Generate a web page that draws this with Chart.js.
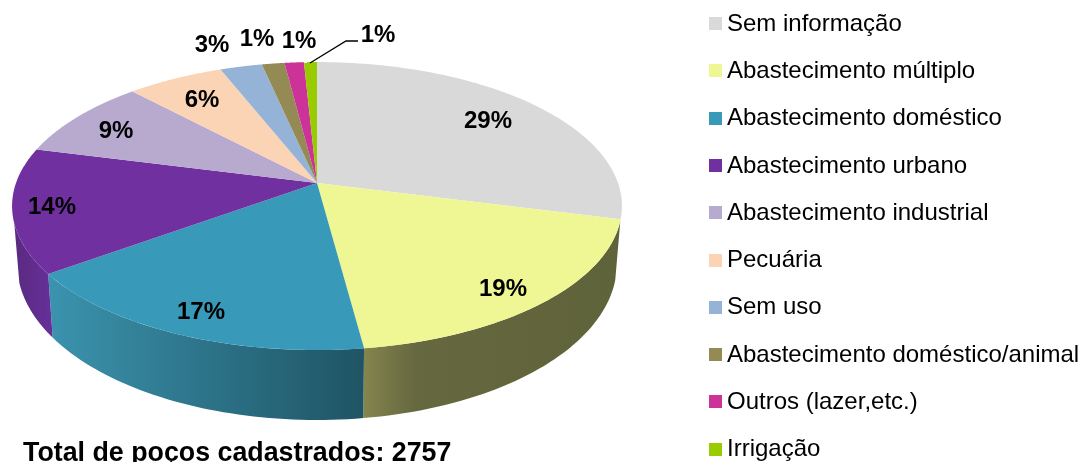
<!DOCTYPE html>
<html><head><meta charset="utf-8">
<style>html,body{margin:0;padding:0;background:#fff;overflow:hidden}canvas{display:block}</style>
<script src="https://cdn.jsdelivr.net/npm/chart.js@4"></script>
</head><body><canvas id="c" width="1081" height="462"></canvas>
<script>
const categories = ["Sem informação","Abastecimento múltiplo","Abastecimento doméstico","Abastecimento urbano","Abastecimento industrial","Pecuária","Sem uso","Abastecimento doméstico/animal","Outros (lazer,etc.)","Irrigação"];
const percentValues = [29,18.9,17.1,14,9,6,2.6,1.4,1.2,0.8];
const totalLabel = "Total de poços cadastrados: 2757";
const sliceColors = ["#d9d9d9","#eff795","#389ab8","#7030a0","#b8a9cf","#fbd3b5","#95b3d7","#948a54","#cc3399","#99cc00"];
const sideStops = [["#7a7a7a","#666666"],["#85854f","#5f6339"],["#3b93ae","#1f5464"],["#5a2a80","#66309a"]];
const labelAnchors = [[488,121],[503,289],[201,312],[52,207],[116,131],[202,100],[212,45],[257,39],[299,41],[378,35]];

const top3d = {cx:317, cy:183, c:301, a:140.3, b:0.16};
const bot3d = {cx:317, cy:239, c:296, a:152, b:0.16};
function rim(p, ang){
  const u=Math.cos(ang), v=-Math.sin(ang), d=1+p.b*v;
  return [p.cx+p.c*u/d, p.cy-p.a*v/d];
}
const plugin3d = {
  id:'pie3d',
  beforeDatasetsDraw(chart){
    const ctx=chart.ctx, arcs=chart.getDatasetMeta(0).data;
    const visA=-Math.PI/2+105*Math.PI/180, visB=-Math.PI/2+254*Math.PI/180;
    arcs.forEach((arc,i)=>{
      const s=Math.max(arc.startAngle,visA), e=Math.min(arc.endAngle,visB);
      if(e<=s) return;
      const N=48, T=[], B=[];
      for(let k=0;k<=N;k++){const t=s+(e-s)*k/N;T.push(rim(top3d,t));B.push(rim(bot3d,t));}
      const xs=T.concat(B).map(p=>p[0]), x0=Math.min(...xs), x1=Math.max(...xs);
      const g=ctx.createLinearGradient(x0,0,x1,0);
      const st=sideStops[i]||["#000","#000"];
      if(i===1){g.addColorStop(0,st[0]);g.addColorStop(0.2,"#66683f");g.addColorStop(1,st[1]);}
      else{g.addColorStop(0,st[0]);g.addColorStop(1,st[1]);}
      ctx.beginPath();
      T.forEach((p,k)=>k?ctx.lineTo(p[0],p[1]):ctx.moveTo(p[0],p[1]));
      B.reverse().forEach(p=>ctx.lineTo(p[0],p[1]));
      ctx.closePath();ctx.fillStyle=g;ctx.fill();
    });
    arcs.forEach((arc,i)=>{
      const N=80;
      ctx.beginPath();ctx.moveTo(top3d.cx,top3d.cy);
      for(let k=0;k<=N;k++){const p=rim(top3d,arc.startAngle+(arc.endAngle-arc.startAngle)*k/N);ctx.lineTo(p[0],p[1]);}
      ctx.closePath();ctx.fillStyle=sliceColors[i];ctx.fill();
    });
    return false;
  },
  afterDraw(chart){
    const ctx=chart.ctx;
    ctx.save();
    ctx.textBaseline='middle';
    ctx.strokeStyle='#000';ctx.lineWidth=1.3;ctx.beginPath();
    ctx.moveTo(310,63);ctx.lineTo(346,41);ctx.lineTo(358,41);ctx.stroke();
    ctx.fillStyle='#000';ctx.textAlign='center';
    ctx.font='bold 24px "Liberation Sans", Arial, sans-serif';
    percentValues.forEach((v,i)=>ctx.fillText(Math.round(v)+'%',labelAnchors[i][0],labelAnchors[i][1]));
    ctx.textAlign='left';
    ctx.font='24px "Liberation Sans", Arial, sans-serif';
    categories.forEach((c,i)=>{
      const y=23.5+i*47.3;
      ctx.fillStyle=sliceColors[i];ctx.fillRect(709,Math.round(y-6.5),13,13);
      ctx.fillStyle='#000';ctx.fillText(c,727,y+0.5);
    });
    ctx.font='bold 26.8px "Liberation Sans", Arial, sans-serif';
    ctx.textBaseline='alphabetic';
    ctx.fillText(totalLabel,23,461);
    ctx.restore();
  }
};
new Chart(document.getElementById('c'),{
  type:'pie',
  data:{labels:categories,datasets:[{data:percentValues,backgroundColor:sliceColors,borderWidth:0}]},
  options:{responsive:false,animation:false,layout:{padding:0},
    plugins:{legend:{display:false},tooltip:{enabled:false},title:{display:false}}},
  plugins:[plugin3d]
});
</script></body></html>
